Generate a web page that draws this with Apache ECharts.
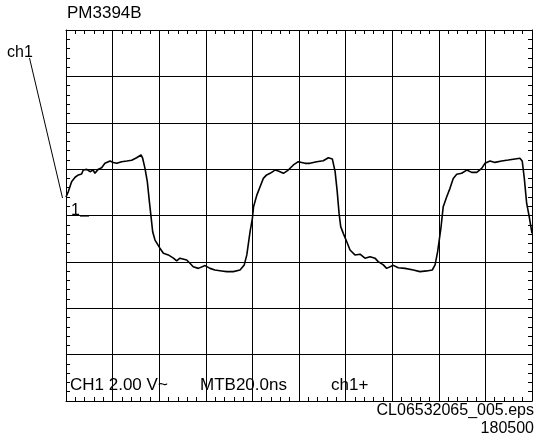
<!DOCTYPE html>
<html>
<head>
<meta charset="utf-8">
<script src="https://cdn.jsdelivr.net/npm/echarts@6/dist/echarts.min.js"></script>
<style>
  html, body { margin: 0; padding: 0; background: #fff; }
  #main { width: 534px; height: 436px; }
</style>
</head>
<body>
<div id="main"></div>
<script>
// time in ns (MTB 20.0 ns/div), voltage in V (CH1 2.00 V/div)
var timeNs = [0, 1.0, 2.4, 3.9, 5.3, 6.7, 7.4, 8.9, 10.3, 11.7, 12.4, 13.9, 15.3, 16.7, 18.9, 20.3, 21.8, 23.9, 26.1, 28.2,
  30.3, 32.2, 32.9, 33.9, 34.9, 35.8, 36.5, 37.2, 38.2, 40.3, 41.8, 43.9, 46.1, 47.5, 48.9, 51.8, 53.2, 54.6, 56.8, 59.7,
  61.8, 63.9, 66.8, 69.0, 71.8, 74.7, 76.5, 77.6, 79.0, 80.0, 80.5, 81.9, 83.3, 84.7, 86.1, 87.6, 89.7, 91.1, 93.3, 95.4,
  97.6, 99.7, 102.6, 104.7, 107.6, 110.4, 112.6, 114.3, 115.5, 116.4, 117.2, 117.9, 119.0, 120.5, 121.9, 124.0, 126.2, 128.3, 130.5, 132.6,
  134.0, 136.2, 137.6, 140.5, 142.6, 145.5, 149.1, 151.9, 154.8, 157.2, 158.4, 159.5, 160.9, 161.9, 163.4, 164.8, 166.2, 167.7, 169.8, 172.0,
  174.1, 176.3, 178.4, 179.8, 182.0, 184.1, 187.0, 189.8, 192.7, 194.8, 195.8, 196.7, 197.7, 198.8, 200];
var volts = [0.80, 1.03, 1.46, 1.65, 1.75, 1.79, 1.96, 1.99, 1.89, 1.96, 1.82, 2.00, 2.06, 2.25, 2.35, 2.29, 2.25, 2.32, 2.35, 2.38,
  2.49, 2.61, 2.47, 2.03, 1.46, 0.59, -0.05, -0.70, -1.06, -1.41, -1.63, -1.70, -1.84, -1.96, -1.84, -1.92, -2.06, -2.21, -2.28, -2.16,
  -2.28, -2.35, -2.39, -2.42, -2.42, -2.35, -2.13, -1.70, -0.70, -0.12, 0.38, 0.88, 1.24, 1.60, 1.75, 1.82, 1.96, 1.92, 1.82, 1.96,
  2.18, 2.32, 2.25, 2.25, 2.32, 2.36, 2.49, 2.44, 1.89, 1.03, 0.09, -0.48, -0.77, -1.13, -1.49, -1.70, -1.67, -1.84, -1.78, -1.84,
  -1.99, -2.13, -2.28, -2.15, -2.25, -2.28, -2.35, -2.42, -2.39, -2.35, -2.13, -1.56, -0.55, 0.38, 0.81, 1.17, 1.60, 1.78, 1.82, 1.96,
  1.86, 1.86, 2.03, 2.25, 2.35, 2.29, 2.35, 2.39, 2.44, 2.47, 2.35, 1.60, 0.53, -0.05, -0.77];

var title = 'PM3394B';
var channelLabel = 'ch1';
var groundMark = '1';
var bottomLabels = ['CH1 2.00 V~', 'MTB20.0ns', 'ch1+'];
var fileLabel = 'CL06532065_005.eps';
var dateLabel = '180500';

var font = '"Liberation Sans", Arial, Helvetica, sans-serif';

var points = [];
for (var i = 0; i < timeNs.length; i++) {
  points.push([timeNs[i], volts[i]]);
}

function scopeAxis(pos, min, max, interval, grid) {
  return {
    type: 'value',
    position: pos,
    min: min,
    max: max,
    interval: interval,
    axisLine: { show: true, onZero: false, lineStyle: { color: '#000', width: 1 } },
    axisTick: { show: true, inside: true, length: 4, lineStyle: { color: '#000' } },
    minorTick: { show: true, splitNumber: 5, length: 4, lineStyle: { color: '#000' } },
    axisLabel: { show: false },
    splitLine: { show: grid, lineStyle: { color: '#000', width: 1 } }
  };
}

var myChart = echarts.init(document.getElementById('main'));
myChart.setOption({
  animation: false,
  backgroundColor: '#fff',
  grid: { left: 66, right: 2, top: 30, bottom: 35 },
  xAxis: [
    scopeAxis('bottom', 0, 200, 20, true),
    scopeAxis('top', 0, 200, 20, false)
  ],
  yAxis: [
    scopeAxis('left', -8, 8, 2, true),
    scopeAxis('right', -8, 8, 2, false)
  ],
  graphic: [
    { type: 'text', left: 67, top: 5, style: { text: title, font: '17px ' + font, fill: '#000' } },
    { type: 'text', left: 7, top: 45, style: { text: channelLabel, font: '16px ' + font, fill: '#000' } },
    { type: 'line', shape: { x1: 29.5, y1: 58, x2: 62.5, y2: 198 }, style: { stroke: '#000', lineWidth: 1 } },
    { type: 'text', left: 71, top: 203, style: { text: groundMark, font: '16px ' + font, fill: '#000' } },
    { type: 'line', shape: { x1: 80, y1: 216, x2: 89, y2: 216 }, style: { stroke: '#000', lineWidth: 1.2 } },
    { type: 'text', left: 70, top: 377, style: { text: bottomLabels[0], font: '17px ' + font, fill: '#000' } },
    { type: 'text', left: 200, top: 377, style: { text: bottomLabels[1], font: '17px ' + font, fill: '#000' } },
    { type: 'text', left: 331, top: 377, style: { text: bottomLabels[2], font: '17px ' + font, fill: '#000' } },
    { type: 'text', right: 0, top: 403, style: { text: fileLabel, font: '16px ' + font, fill: '#000' } },
    { type: 'text', right: 0, top: 421, style: { text: dateLabel, font: '16px ' + font, fill: '#000' } }
  ],
  series: [
    {
      type: 'line',
      data: points,
      showSymbol: false,
      symbol: 'none',
      lineStyle: { color: '#000', width: 1.6 },
      xAxisIndex: 0,
      yAxisIndex: 0
    }
  ]
});
</script>
</body>
</html>
